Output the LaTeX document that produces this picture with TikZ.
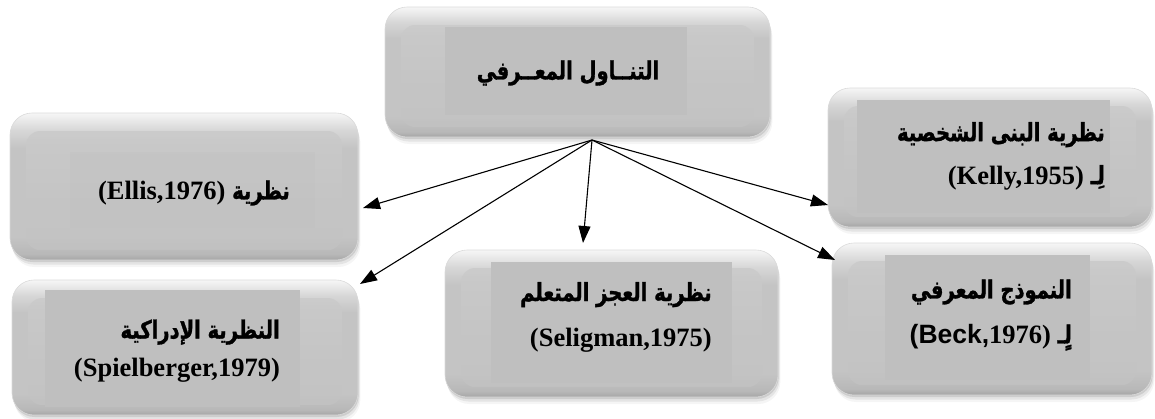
\documentclass[tikz,border=0pt]{standalone}
\usepackage{fontspec}
\setmainfont{Liberation Serif}
\newfontfamily\arabicfont[Script=Arabic,FakeStretch=0.78,BoldFeatures={FakeBold=1.2}]{DejaVu Sans}
\newfontfamily\arialfont{Liberation Sans}
\TeXXeTstate=1
\usetikzlibrary{arrows.meta,fit}

% greys of the glossy boxes
\definecolor{gEdge}{RGB}{165,165,165}
\definecolor{gLow}{RGB}{184,184,184}
\definecolor{gBody}{RGB}{196,196,196}
\definecolor{gHigh}{RGB}{214,214,214}
\definecolor{gTop}{RGB}{246,246,246}
\definecolor{gRim}{RGB}{218,218,218}
\definecolor{gInTop}{RGB}{202,202,202}
\definecolor{gInBot}{RGB}{194,194,194}
\definecolor{gPanel}{RGB}{191,191,191}

\pgfdeclareverticalshading{glossy}{100bp}{color(0bp)=(gEdge); color(25bp)=(gEdge);
  color(27bp)=(gLow); color(33bp)=(gBody); color(63bp)=(gBody);
  color(69bp)=(gHigh); color(75bp)=(gTop); color(100bp)=(gTop)}

% Latin parts of the labels
\newcommand\lat[1]{{\rmfamily\bfseries\fontsize{26.5}{43}\selectfont #1}}
\newcommand\latsans[1]{{\arialfont\bfseries\fontsize{26.5}{43}\selectfont #1}}

% glossy rounded box: name, outer x1,y1,x2,y2, text panel x1,y1,x2,y2
\newcommand\glossbox[9]{%
  \foreach \d/\o in {7/0.04,4.5/0.07,2/0.10}
    \fill[black,opacity=\o,rounded corners=22pt] (#2+\d/3,#3+\d) rectangle (#4+\d/3,#5+\d);
  \shade[shading=glossy,rounded corners=22pt,draw=gRim,line width=0.6pt] (#2,#3) rectangle (#4,#5);
  \shade[top color=gInTop,bottom color=gInBot,rounded corners=14pt,opacity=0.85] (#2+16,#3+18) rectangle (#4-16,#5-10);
  \fill[gPanel,opacity=\panelop] (#6,#7) rectangle (#8,#9);
  \node[fit={(#2,#3) (#4,#5)},inner sep=0pt] (#1) {};
}
\newcommand\panelop{1}

\tikzset{
  label/.style={font=\arabicfont\bfseries\fontsize{25}{43}\selectfont, inner sep=0pt, align=right, anchor=east},
  title/.style={font=\arabicfont\bfseries\fontsize{25}{28}\selectfont, inner sep=0pt},
  link/.style={line width=1.1pt, -{Triangle[length=17pt,width=12pt]}},
}

\begin{document}
\begin{tikzpicture}[x=1pt,y=-1pt]
  \useasboundingbox (0,0) rectangle (1155,418);

  % boxes
  \glossbox{top}{385}{7}{770}{137}{445}{27}{687}{115}
  {\renewcommand\panelop{0.25}%
   \glossbox{ellis}{10}{113}{358}{260}{70}{152}{315}{228}}
  \glossbox{spiel}{12}{280}{358}{415}{45}{290}{300}{407}
  \glossbox{selig}{445}{250}{778}{397}{491}{262}{732}{383}
  \glossbox{kelly}{828}{88}{1152}{227}{857}{100}{1110}{213}
  \glossbox{beck}{832}{243}{1152}{395}{885}{255}{1090}{380}

  % labels
  \node[title] (top-t) at (568,73) {\beginR التنــاول المعــرفي\endR};
  \node[label] (ellis-t) at (290,193) {\lat{(Ellis,1976)} \beginR نظرية\endR};
  \node[label] (spiel-t) at (280,351) {\beginR النظرية الإدراكية\endR\\[-5pt]\lat{(Spielberger,1979)}};
  \node[label] (selig-t) at (712,317) {\beginR نظرية العجز المتعلم\endR\\[2pt]\lat{(Seligman,1975)}};
  \node[label] (kelly-t) at (1105,156) {\beginR نظرية البنى الشخصية\endR\\\lat{(Kelly,1955)} \beginR لِـ\endR};
  \node[label] (beck-t) at (1072,315) {\beginR النموذج المعرفي\endR\\[2pt]\latsans{(Beck,}\lat{1976)} \beginR لٍـ\endR};

  % connectors from the common point under the top box
  \coordinate (hub) at (592,140);
  \coordinate (to-ellis) at (363,208);
  \coordinate (to-spiel) at (360,284);
  \coordinate (to-selig) at (583,243);
  \coordinate (to-kelly) at (828,205);
  \coordinate (to-beck) at (835,260);
  \draw[link] (hub) -- (to-ellis);
  \draw[link] (hub) -- (to-spiel);
  \draw[link] (hub) -- (to-selig);
  \draw[link] (hub) -- (to-kelly);
  \draw[link] (hub) -- (to-beck);
\end{tikzpicture}
\end{document}
